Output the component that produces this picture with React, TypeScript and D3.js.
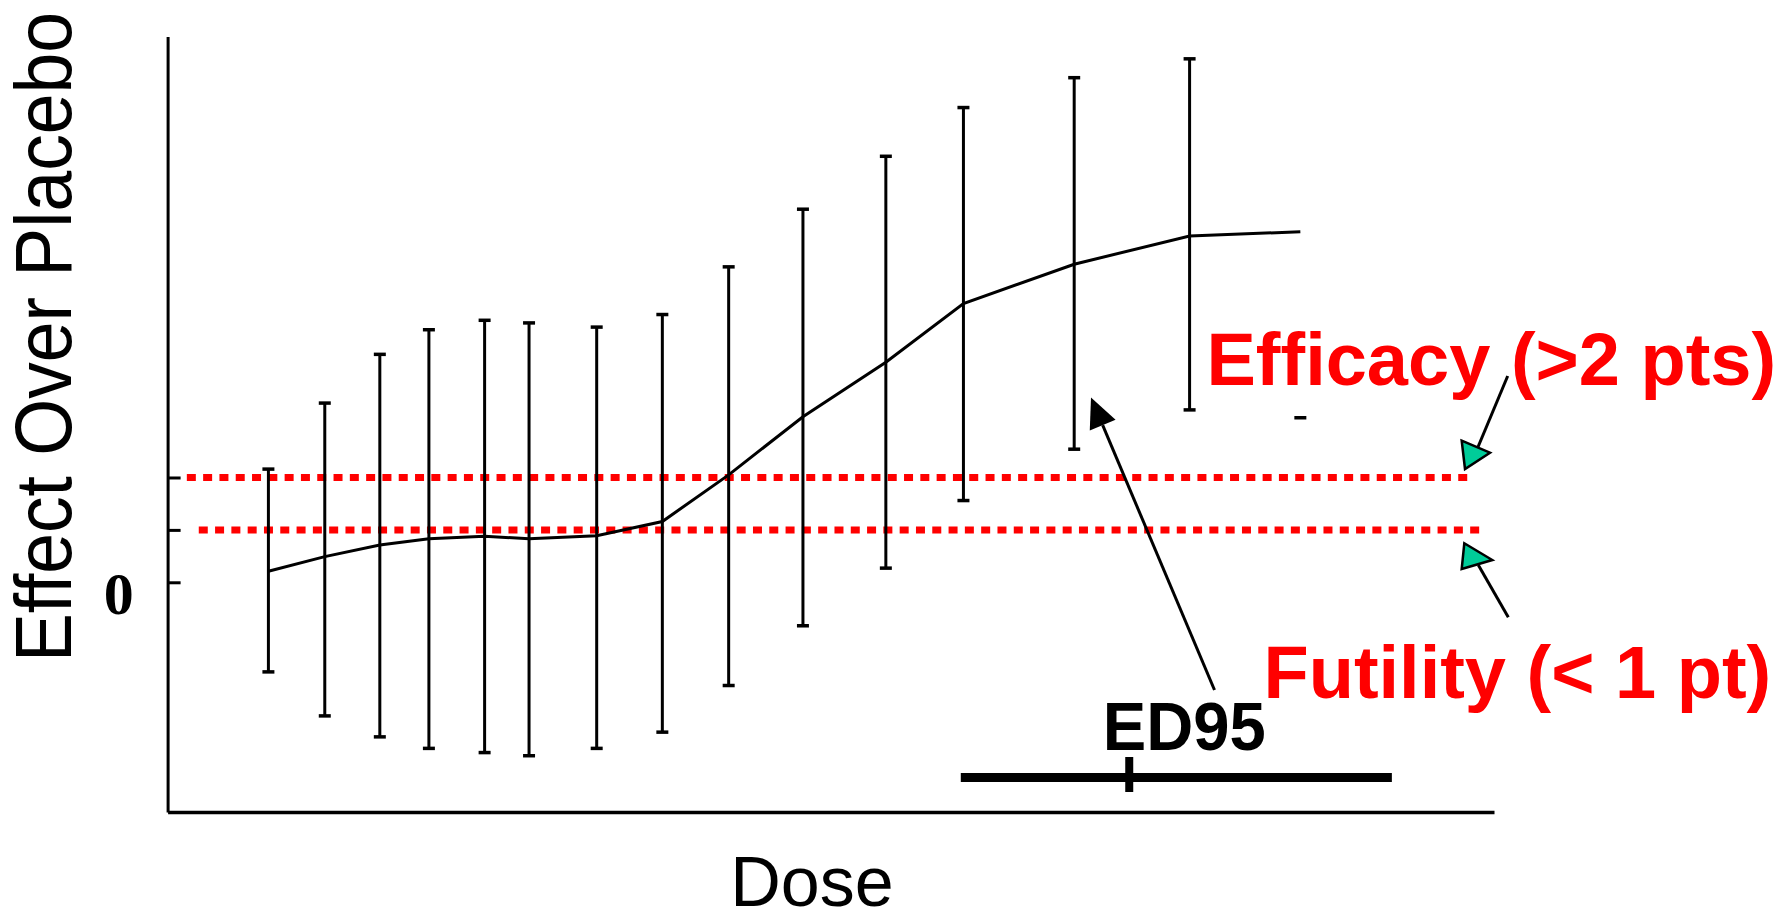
import React, { useEffect, useRef } from "react";
import * as d3 from "d3";

// Dose levels (arbitrary dose units) and the estimated effect over placebo with interval bounds
const doses = [1.52, 2.37, 3.2, 3.94, 4.78, 5.45, 6.47, 7.46, 8.46, 9.58, 10.83, 12.0, 13.67, 15.41, 17.08];
const effect = [0.21, 0.49, 0.71, 0.83, 0.88, 0.83, 0.89, 1.16, 2.05, 3.16, 4.2, 5.32, 6.07, 6.61, 6.69];
const upper: (number | null)[] = [2.16, 3.42, 4.35, 4.82, 5.0, 4.95, 4.87, 5.11, 6.02, 7.12, 8.13, 9.06, 9.63, 9.99, null];
const lower: (number | null)[] = [-1.71, -2.55, -2.95, -3.17, -3.25, -3.31, -3.17, -2.86, -1.97, -0.83, 0.27, 1.56, 2.54, 3.29, 3.14];

// Decision thresholds (pts) and the dose span each reference line covers
const efficacyThreshold = 2;
const futilityThreshold = 1;
const efficacySpan = [0.29, 19.65];
const futilitySpan = [0.47, 19.83];

// ED95 estimate with its interval on the dose axis
const ed95 = { estimate: 14.5, low: 11.96, high: 18.46 };

// Y-axis tick values; only zero is labelled
const yTicks = [0, 1, 2];

const W = 1788;
const H = 913;

export default function App() {
  const ref = useRef<SVGSVGElement | null>(null);

  useEffect(() => {
    const svg = d3.select(ref.current);
    svg.selectAll("*").remove();

    const x = d3.scaleLinear().domain([0, 20]).range([167.6, 1494]);
    const y = d3.scaleLinear().domain([-4.384, 10.416]).range([812, 36.5]);

    const sans = "'Liberation Sans', Arial, sans-serif";

    // Axes
    const yAxis = d3.axisRight(y).tickValues(yTicks).tickSize(13).tickSizeOuter(0).tickFormat(() => "");
    const gy = svg.append("g").attr("transform", `translate(${x(0)},0)`).call(yAxis);
    gy.select(".domain").attr("stroke", "#000").attr("stroke-width", 3);
    gy.selectAll(".tick line").attr("stroke", "#000").attr("stroke-width", 3);

    const xAxis = d3.axisBottom(x).tickValues([]).tickSizeOuter(0);
    const gx = svg.append("g").attr("transform", `translate(0,${y.range()[0]})`).call(xAxis);
    gx.select(".domain").attr("stroke", "#000").attr("stroke-width", 3.5);

    // Zero label
    svg.append("text")
      .attr("x", 118.7)
      .attr("y", y(0) + 31.7)
      .attr("text-anchor", "middle")
      .attr("font-family", "'Liberation Serif', 'Times New Roman', serif")
      .attr("font-weight", "bold")
      .attr("font-size", 60)
      .text("0");

    // Axis titles
    svg.append("text")
      .attr("transform", "translate(70.7,662) rotate(-90)")
      .attr("font-family", sans)
      .attr("font-size", 79)
      .attr("textLength", 650)
      .attr("lengthAdjust", "spacingAndGlyphs")
      .text("Effect Over Placebo");

    svg.append("text")
      .attr("x", 812)
      .attr("y", 906)
      .attr("text-anchor", "middle")
      .attr("font-family", sans)
      .attr("font-size", 70)
      .text("Dose");

    // Threshold reference lines
    const refLines = [
      { v: efficacyThreshold, span: efficacySpan },
      { v: futilityThreshold, span: futilitySpan },
    ];
    svg.selectAll("line.threshold")
      .data(refLines)
      .join("line")
      .attr("class", "threshold")
      .attr("x1", (d) => x(d.span[0]))
      .attr("x2", (d) => x(d.span[1]))
      .attr("y1", (d) => y(d.v))
      .attr("y2", (d) => y(d.v))
      .attr("stroke", "#ff0000")
      .attr("stroke-width", 7)
      .attr("stroke-dasharray", "9 7.3");

    // Interval bars
    const idx = d3.range(doses.length);
    const capW = 12;
    const bars = svg.append("g").attr("stroke", "#000");
    bars.selectAll("line.v")
      .data(idx.filter((i) => upper[i] != null && lower[i] != null))
      .join("line")
      .attr("x1", (i) => x(doses[i]))
      .attr("x2", (i) => x(doses[i]))
      .attr("y1", (i) => y(upper[i] as number))
      .attr("y2", (i) => y(lower[i] as number))
      .attr("stroke-width", 3);
    bars.selectAll("line.top")
      .data(idx.filter((i) => upper[i] != null))
      .join("line")
      .attr("x1", (i) => x(doses[i]) - capW / 2)
      .attr("x2", (i) => x(doses[i]) + capW / 2)
      .attr("y1", (i) => y(upper[i] as number))
      .attr("y2", (i) => y(upper[i] as number))
      .attr("stroke-width", 3.5);
    bars.selectAll("line.bot")
      .data(idx.filter((i) => lower[i] != null))
      .join("line")
      .attr("x1", (i) => x(doses[i]) - capW / 2)
      .attr("x2", (i) => x(doses[i]) + capW / 2)
      .attr("y1", (i) => y(lower[i] as number))
      .attr("y2", (i) => y(lower[i] as number))
      .attr("stroke-width", 3.5);

    // Dose-response curve
    const line = d3.line<number>().x((i) => x(doses[i])).y((i) => y(effect[i]));
    svg.append("path")
      .attr("d", line(idx) as string)
      .attr("fill", "none")
      .attr("stroke", "#000")
      .attr("stroke-width", 3);

    // ED95 interval
    const edY = 777.5;
    svg.append("line")
      .attr("x1", x(ed95.low)).attr("x2", x(ed95.high))
      .attr("y1", edY).attr("y2", edY)
      .attr("stroke", "#000").attr("stroke-width", 9);
    svg.append("line")
      .attr("x1", x(ed95.estimate)).attr("x2", x(ed95.estimate))
      .attr("y1", edY - 20.5).attr("y2", edY + 14.5)
      .attr("stroke", "#000").attr("stroke-width", 8);
    svg.append("text")
      .attr("x", 1102.7)
      .attr("y", 750)
      .attr("font-family", sans)
      .attr("font-weight", "bold")
      .attr("font-size", 68)
      .attr("textLength", 163)
      .attr("lengthAdjust", "spacingAndGlyphs")
      .text("ED95");

    // ED95 pointer arrow
    const tail: [number, number] = [1214.5, 690];
    const tip: [number, number] = [1091, 397.5];
    const dx = tip[0] - tail[0];
    const dy = tip[1] - tail[1];
    const len = Math.hypot(dx, dy);
    const ux = dx / len, uy = dy / len;
    const headL = 30, headW = 14;
    const bx = tip[0] - headL * ux, by = tip[1] - headL * uy;
    svg.append("line")
      .attr("x1", tail[0]).attr("y1", tail[1])
      .attr("x2", bx).attr("y2", by)
      .attr("stroke", "#000").attr("stroke-width", 3);
    svg.append("polygon")
      .attr("points", [
        [tip[0], tip[1]],
        [bx - uy * headW, by + ux * headW],
        [bx + uy * headW, by - ux * headW],
      ].map((p) => p.join(",")).join(" "))
      .attr("fill", "#000");

    // Threshold labels
    svg.append("text")
      .attr("x", 1206.5).attr("y", 385)
      .attr("font-family", sans).attr("font-weight", "bold").attr("font-size", 74)
      .attr("fill", "#ff0000")
      .text("Efficacy (>2 pts)");
    svg.append("text")
      .attr("x", 1263.5).attr("y", 698)
      .attr("font-family", sans).attr("font-weight", "bold").attr("font-size", 74)
      .attr("fill", "#ff0000")
      .text("Futility (< 1 pt)");

    // Label pointers with teal heads
    const pointers = [
      { from: [1507.7, 376], to: [1478, 447], head: [[1461.7, 440.7], [1490, 452.7], [1465, 469]] },
      { from: [1508.3, 617.3], to: [1478.3, 565], head: [[1464.3, 543.3], [1492.3, 560], [1461.7, 569]] },
    ];
    pointers.forEach((p) => {
      svg.append("line")
        .attr("x1", p.from[0]).attr("y1", p.from[1])
        .attr("x2", p.to[0]).attr("y2", p.to[1])
        .attr("stroke", "#000").attr("stroke-width", 3);
      svg.append("polygon")
        .attr("points", p.head.map((q) => q.join(",")).join(" "))
        .attr("fill", "#00cc99")
        .attr("stroke", "#000")
        .attr("stroke-width", 2.5)
        .attr("stroke-linejoin", "miter");
    });
  }, []);

  return (
    <svg
      ref={ref}
      width={W}
      height={H}
      viewBox={`0 0 ${W} ${H}`}
      style={{ position: "absolute", left: 0, top: 0, background: "#fff" }}
    />
  );
}
